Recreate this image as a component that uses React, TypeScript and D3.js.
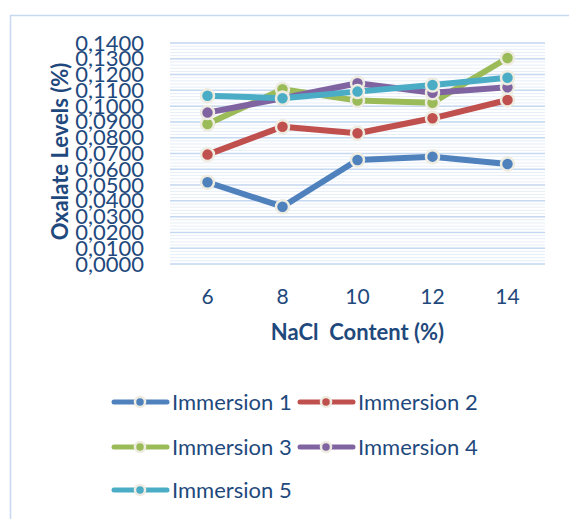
import React, { useEffect, useRef } from 'react';
import * as d3 from 'd3';

const categories = ['6', '8', '10', '12', '14'];
const seriesNames = ['Immersion 1', 'Immersion 2', 'Immersion 3', 'Immersion 4', 'Immersion 5'];
const immersion1 = [0.0518, 0.0363, 0.0659, 0.068, 0.0633];
const immersion2 = [0.0693, 0.087, 0.0828, 0.0923, 0.1039];
const immersion3 = [0.0887, 0.1107, 0.1035, 0.1022, 0.1305];
const immersion4 = [0.0959, 0.105, 0.1145, 0.1085, 0.1119];
const immersion5 = [0.1066, 0.105, 0.1092, 0.1134, 0.118];
const colors = ['#4f81bd', '#c0504d', '#9bbb59', '#8064a2', '#4bacc6'];

const FONT = 'Lato, "Noto Sans", sans-serif';
const TEXT = '#1f497d';

const App = () => {
    const ref = useRef<SVGSVGElement>(null);

    useEffect(() => {
        document.body.style.margin = '0';
        const svg = d3.select(ref.current);
        svg.selectAll('*').remove();

        const allSeries = [immersion1, immersion2, immersion3, immersion4, immersion5];
        const left = 170, right = 545, top = 43, bottom = 264;

        // outer chart border
        svg.append('rect')
            .attr('x', 10.5).attr('y', 15.5)
            .attr('width', 600).attr('height', 600)
            .attr('fill', 'none').attr('stroke', '#c6d9f1').attr('stroke-width', 1.5);

        const x = d3.scaleBand().domain(categories).range([left, right]);
        const y = d3.scaleLinear().domain([0, 0.14]).range([bottom, top]);

        // minor + major gridlines
        const minor = d3.range(0, 0.1401, 0.002);
        svg.append('g').selectAll('line').data(minor).enter().append('line')
            .attr('x1', left).attr('x2', right)
            .attr('y1', d => y(d)).attr('y2', d => y(d))
            .attr('stroke', '#e6eef8').attr('stroke-width', 1);
        const major = d3.range(0, 0.1401, 0.01);
        svg.append('g').selectAll('line').data(major).enter().append('line')
            .attr('x1', left).attr('x2', right)
            .attr('y1', d => y(d)).attr('y2', d => y(d))
            .attr('stroke', '#c6d9f1').attr('stroke-width', 1.5);

        // y axis labels
        const yAxis = svg.append('g')
            .attr('transform', `translate(${left - 23},0)`)
            .call(d3.axisLeft(y).tickValues(major).tickSize(0)
                .tickFormat(d => (d as number).toFixed(4).replace('.', ',')));
        yAxis.select('.domain').remove();
        yAxis.selectAll('text')
            .attr('font-family', FONT).attr('font-size', 22).attr('fill', TEXT);

        // x axis labels
        const xAxis = svg.append('g')
            .attr('transform', `translate(0,${bottom + 22})`)
            .call(d3.axisBottom(x).tickSize(0));
        xAxis.select('.domain').remove();
        xAxis.selectAll('text')
            .attr('font-family', FONT).attr('font-size', 21).attr('fill', TEXT);

        svg.append('text')
            .attr('transform', `translate(68,${(top + bottom) / 2 - 2}) rotate(-90)`)
            .attr('text-anchor', 'middle')
            .attr('font-family', FONT).attr('font-size', 22).attr('font-weight', 'bold')
            .attr('fill', TEXT)
            .text('Oxalate Levels (%)');

        svg.append('text')
            .attr('x', (left + right) / 2).attr('y', 340)
            .attr('text-anchor', 'middle')
            .attr('font-family', FONT).attr('font-size', 22).attr('font-weight', 'bold')
            .attr('fill', TEXT)
            .style('white-space', 'pre')
            .text('NaCl  Content (%)');

        const cx = (c: string) => (x(c) as number) + x.bandwidth() / 2;
        const line = d3.line<number>()
            .x((d, i) => cx(categories[i]))
            .y(d => y(d));

        allSeries.forEach((s, si) => {
            svg.append('path')
                .datum(s)
                .attr('d', line)
                .attr('fill', 'none')
                .attr('stroke', colors[si])
                .attr('stroke-width', 6)
                .attr('stroke-linejoin', 'round');
            svg.append('g').selectAll('circle').data(s).enter().append('circle')
                .attr('cx', (d, i) => cx(categories[i]))
                .attr('cy', d => y(d))
                .attr('r', 6.5)
                .attr('fill', colors[si])
                .attr('stroke', '#eeece1')
                .attr('stroke-width', 2.5);
        });

        // legend
        const legendPos = [[112, 402], [298, 402], [112, 447], [298, 447], [112, 490]];
        seriesNames.forEach((name, i) => {
            const [lx, ly] = legendPos[i];
            const g = svg.append('g').attr('transform', `translate(${lx},${ly})`);
            g.append('line')
                .attr('x1', 2).attr('x2', 55).attr('y1', 0).attr('y2', 0)
                .attr('stroke', colors[i]).attr('stroke-width', 5).attr('stroke-linecap', 'round');
            g.append('circle')
                .attr('cx', 28).attr('cy', 0).attr('r', 5)
                .attr('fill', colors[i]).attr('stroke', '#eeece1').attr('stroke-width', 2.5);
            g.append('text')
                .attr('x', 60).attr('y', 0).attr('dy', '0.35em')
                .attr('font-family', FONT).attr('font-size', 22).attr('fill', TEXT)
                .text(name);
        });
    }, []);

    return <svg ref={ref} width={569} height={519} style={{ display: 'block' }}></svg>;
};

export default App;
